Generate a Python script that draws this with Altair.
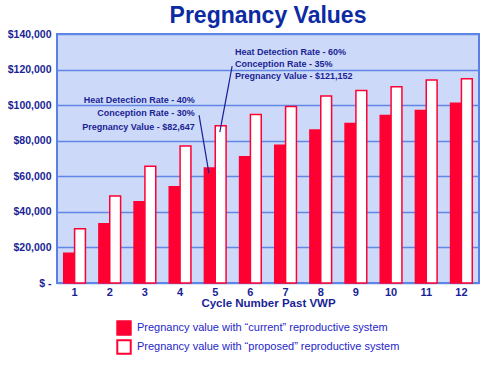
import altair as alt
import pandas as pd

cycles = [1, 2, 3, 4, 5, 6, 7, 8, 9, 10, 11, 12]
current = [16700, 33300, 45700, 54100, 64600, 71000, 77500, 86000, 89700, 94200, 97000, 101000]
proposed = [30500, 48900, 65700, 77000, 88400, 94800, 99300, 105100, 108300, 110300, 114200, 114800]
series = ["Pregnancy value with “current” reproductive system",
          "Pregnancy value with “proposed” reproductive system"]
y_ticks = [0, 20000, 40000, 60000, 80000, 100000, 120000, 140000]

ann_text = ["Heat Detection Rate - 40%", "Conception Rate - 30%", "Pregnancy Value - $82,647",
            "Heat Detection Rate - 60%", "Conception Rate - 35%", "Pregnancy Value - $121,152"]
ann_x = [4.42, 4.42, 4.42, 5.56, 5.56, 5.56]
ann_y = [102800, 95500, 87800, 129900, 123200, 116300]
ann_align = ["right", "right", "right", "left", "left", "left"]

lead_x = [4.54, 5.48]
lead_y = [94400, 121900]
lead_x2 = [4.82, 5.13]
lead_y2 = [61800, 84800]

RED = "#ff0033"
NAVY = "#1a1f96"
FONT = "Liberation Sans, Arial, sans-serif"

rows = []
for c, a, b in zip(cycles, current, proposed):
    rows.append({"cycle": c, "series": series[0], "value": a})
    rows.append({"cycle": c, "series": series[1], "value": b})
df = pd.DataFrame(rows)

ann = pd.DataFrame({"text": ann_text, "x": ann_x, "y": ann_y, "align": ann_align})
leads = pd.DataFrame({"x": lead_x, "y": lead_y, "x2": lead_x2, "y2": lead_y2})

yscale = alt.Scale(domain=[0, 140000], nice=False)
xq = alt.Scale(domain=[0.5, 12.5], nice=False, zero=False)
yaxis = alt.Axis(values=y_ticks, labelOverlap=False,
                 labelExpr="datum.value == 0 ? '$ -' : '$' + format(datum.value, ',')",
                 ticks=False, domain=False, labelPadding=6,
                 labelFontSize=10.5, labelFont=FONT, labelColor=NAVY, labelFontWeight="bold",
                 grid=True, gridColor="#5f88e4", gridWidth=1.5)

bars = alt.Chart(df).mark_bar(stroke=RED, strokeWidth=1.5).encode(
    x=alt.X("cycle:O", title="Cycle Number Past VWP",
            scale=alt.Scale(paddingInner=0, paddingOuter=0),
            axis=alt.Axis(labelAngle=0, ticks=False, domain=False, labelPadding=3,
                          labelFontSize=11, labelFont=FONT, labelColor=NAVY, labelFontWeight="bold",
                          titleFont=FONT, titleFontSize=11.5, titleColor=NAVY, titleFontWeight="bold",
                          titlePadding=0)),
    xOffset=alt.XOffset("series:N", scale=alt.Scale(paddingOuter=0.62, paddingInner=0)),
    y=alt.Y("value:Q", scale=yscale, title=None, axis=yaxis),
    fill=alt.Fill("series:N", scale=alt.Scale(domain=series, range=[RED, "white"]),
                  legend=alt.Legend(title=None, orient="none", legendX=59, legendY=286,
                                    direction="vertical", symbolType="square", symbolSize=180,
                                    symbolStrokeColor=RED, symbolStrokeWidth=2,
                                    labelFont=FONT, labelFontSize=11, labelColor="#2626c8",
                                    labelLimit=400, rowPadding=-4, labelOffset=5)),
)

def text_layer(al):
    return alt.Chart(ann).transform_filter(alt.datum.align == al).mark_text(
        font=FONT, fontSize=9, fontWeight="bold", color=NAVY, baseline="middle", align=al
    ).encode(
        x=alt.X("x:Q", scale=xq, axis=None),
        y=alt.Y("y:Q", scale=yscale, title=None, axis=yaxis),
        text="text:N",
    )

lines = alt.Chart(leads).mark_rule(color=NAVY, strokeWidth=1.2).encode(
    x=alt.X("x:Q", scale=xq, axis=None),
    x2="x2:Q",
    y=alt.Y("y:Q", scale=yscale, title=None, axis=yaxis),
    y2="y2:Q",
)

chart = alt.layer(bars, lines, text_layer("right"), text_layer("left")).resolve_scale(
    x="independent").properties(
    width=422, height=249,
    background="white",
    title=alt.Title("Pregnancy Values", font="Liberation Sans, Arial, sans-serif", fontSize=23,
                    fontWeight="bold", color="#0c2aa3", anchor="middle", offset=1),
    padding={"left": 57, "top": 34, "right": 21, "bottom": 93},
    autosize=alt.AutoSizeParams(type="none"),
).configure_view(fill="#cdd9f8", stroke="#5a80e8", strokeWidth=2)

chart.save("out.html", embed_options={"renderer": "svg", "actions": False})
